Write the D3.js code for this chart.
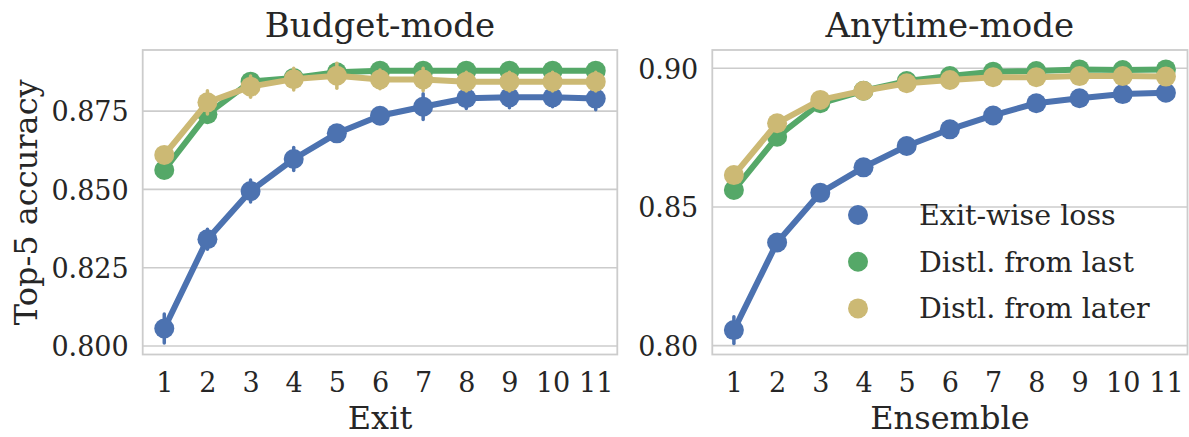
<!DOCTYPE html>
<html>
<head>
<meta charset="utf-8">
<script src="https://cdn.jsdelivr.net/npm/d3@7"></script>
<style>
    html, body { margin: 0; padding: 0; background: #ffffff; }
</style>
</head>
<body>
<div id="chart"></div>
<script>

const exits = [1, 2, 3, 4, 5, 6, 7, 8, 9, 10, 11]
const seriesNames = ["Exit-wise loss", "Distl. from last", "Distl. from later"]
const seriesColors = ["#4c72b0", "#55a868", "#ccb974"]

// Budget-mode, top-5 accuracy per exit
const budgetExitwise = [0.8056, 0.8341, 0.8495, 0.8597, 0.8679, 0.8735, 0.8764, 0.8791, 0.8794, 0.8794, 0.8790]
const budgetLast     = [0.8562, 0.8740, 0.8844, 0.8856, 0.8874, 0.8879, 0.8879, 0.8879, 0.8879, 0.8879, 0.8879]
const budgetLater    = [0.8610, 0.8778, 0.8828, 0.8852, 0.8863, 0.8851, 0.8851, 0.8844, 0.8844, 0.8844, 0.8844]
// half-width of the error bars
const budgetExitwiseErr = [0.0046, 0.0032, 0.0035, 0.0037, 0.0020, 0.0020, 0.0041, 0.0033, 0.0033, 0.0030, 0.0036]
const budgetLastErr     = [0.0020, 0.0025, 0.0025, 0.0020, 0.0025, 0.0020, 0.0020, 0.0020, 0.0020, 0.0020, 0.0020]
const budgetLaterErr    = [0.0020, 0.0037, 0.0034, 0.0035, 0.0040, 0.0030, 0.0036, 0.0030, 0.0030, 0.0030, 0.0030]

// Anytime-mode, top-5 accuracy per ensemble size
const anytimeExitwise = [0.8056, 0.8372, 0.8551, 0.8643, 0.8720, 0.8780, 0.8830, 0.8874, 0.8892, 0.8907, 0.8912]
const anytimeLast     = [0.8561, 0.8753, 0.8874, 0.8919, 0.8954, 0.8972, 0.8988, 0.8990, 0.8996, 0.8994, 0.8996]
const anytimeLater    = [0.8615, 0.8802, 0.8886, 0.8919, 0.8946, 0.8958, 0.8968, 0.8968, 0.8972, 0.8972, 0.8970]
const anytimeExitwiseErr = [0.0048, 0.0020, 0.0020, 0.0015, 0.0015, 0.0015, 0.0015, 0.0015, 0.0015, 0.0015, 0.0015]
const anytimeLastErr     = [0.0020, 0.0020, 0.0015, 0.0015, 0.0015, 0.0015, 0.0015, 0.0015, 0.0015, 0.0015, 0.0015]
const anytimeLaterErr    = [0.0020, 0.0020, 0.0015, 0.0015, 0.0015, 0.0015, 0.0015, 0.0015, 0.0015, 0.0015, 0.0015]

const budgetTicks = [0.800, 0.825, 0.850, 0.875]
const anytimeTicks = [0.80, 0.85, 0.90]

const fontFamily = "'DejaVu Serif', serif"

function drawChart() {
    const width = 1189
    const height = 437

    const svg = d3.select("#chart").append("svg")
        .attr("width", width)
        .attr("height", height)

    svg.append("rect")
        .attr("width", width)
        .attr("height", height)
        .attr("fill", "#ffffff")

    const panels = [
        {
            title: "Budget-mode",
            xLabel: "Exit",
            left: 142.7, right: 617.3,
            yDomain: [0.7973, 0.8945],
            ticks: budgetTicks,
            tickFormat: d3.format(".3f"),
            series: [budgetExitwise, budgetLast, budgetLater],
            errors: [budgetExitwiseErr, budgetLastErr, budgetLaterErr],
            legend: false
        },
        {
            title: "Anytime-mode",
            xLabel: "Ensemble",
            left: 712.3, right: 1187.5,
            yDomain: [0.7968, 0.9066],
            ticks: anytimeTicks,
            tickFormat: d3.format(".2f"),
            series: [anytimeExitwise, anytimeLast, anytimeLater],
            errors: [anytimeExitwiseErr, anytimeLastErr, anytimeLaterErr],
            legend: true
        }
    ]

    const top = 50
    const bottom = 354.5
    const gridColor = "#cccccc"

    panels.forEach(function (p) {
        const x = d3.scalePoint()
            .domain(exits)
            .range([p.left, p.right])
            .padding(0.5)

        const y = d3.scaleLinear()
            .domain(p.yDomain)
            .range([bottom, top])

        const g = svg.append("g")

        // grid lines
        g.selectAll(".grid")
            .data(p.ticks)
            .join("line")
                .attr("class", "grid")
                .attr("x1", p.left)
                .attr("x2", p.right)
                .attr("y1", d => y(d))
                .attr("y2", d => y(d))
                .attr("stroke", gridColor)
                .attr("stroke-width", 1.6)

        // frame
        g.append("rect")
            .attr("x", p.left)
            .attr("y", top)
            .attr("width", p.right - p.left)
            .attr("height", bottom - top)
            .attr("fill", "none")
            .attr("stroke", gridColor)
            .attr("stroke-width", 1.8)

        // y axis
        const yAxis = g.append("g")
            .attr("transform", `translate(${p.left},0)`)
            .call(d3.axisLeft(y).tickValues(p.ticks).tickFormat(p.tickFormat).tickSize(0).tickPadding(14))
        yAxis.select(".domain").remove()
        yAxis.selectAll("text")
            .style("font-size", "27px")
            .attr("dy", "0.36em")

        // x axis
        const xAxis = g.append("g")
            .attr("transform", `translate(0,${bottom})`)
            .call(d3.axisBottom(x).tickSize(0).tickPadding(18))
        xAxis.select(".domain").remove()
        xAxis.selectAll("text")
            .style("font-size", "27px")

        // title and axis label
        g.append("text")
            .attr("x", (p.left + p.right) / 2)
            .attr("y", 37)
            .attr("text-anchor", "middle")
            .style("font-size", "34px")
            .text(p.title)

        g.append("text")
            .attr("x", (p.left + p.right) / 2)
            .attr("y", 429)
            .attr("text-anchor", "middle")
            .style("font-size", "32px")
            .text(p.xLabel)

        // series
        p.series.forEach(function (values, i) {
            const color = seriesColors[i]
            const pts = exits.map((e, j) => ({ x: e, y: values[j], err: p.errors[i][j] }))

            const line = d3.line()
                .x(d => x(d.x))
                .y(d => y(d.y))

            g.append("path")
                .datum(pts)
                .attr("d", line)
                .attr("fill", "none")
                .attr("stroke", color)
                .attr("stroke-width", 6)
                .attr("stroke-linejoin", "round")

            g.selectAll(".err-" + i)
                .data(pts)
                .join("line")
                    .attr("class", "err-" + i)
                    .attr("x1", d => x(d.x))
                    .attr("x2", d => x(d.x))
                    .attr("y1", d => y(d.y - d.err))
                    .attr("y2", d => y(d.y + d.err))
                    .attr("stroke", color)
                    .attr("stroke-width", 3.5)
                    .attr("stroke-linecap", "round")

            g.selectAll(".pt-" + i)
                .data(pts)
                .join("circle")
                    .attr("class", "pt-" + i)
                    .attr("cx", d => x(d.x))
                    .attr("cy", d => y(d.y))
                    .attr("r", 10)
                    .attr("fill", color)
        })

        if (p.legend) {
            const legend = g.append("g")
            seriesNames.forEach(function (name, i) {
                const ly = 215 + i * 46.7
                legend.append("circle")
                    .attr("cx", 858)
                    .attr("cy", ly)
                    .attr("r", 10)
                    .attr("fill", seriesColors[i])
                legend.append("text")
                    .attr("x", 919)
                    .attr("y", ly + 10)
                    .style("font-size", "28.5px")
                    .text(name)
            })
        }
    })

    // shared y label
    svg.append("text")
        .attr("transform", `translate(37,${(top + bottom) / 2}) rotate(-90)`)
        .attr("text-anchor", "middle")
        .style("font-size", "32px")
        .text("Top-5 accuracy")

    svg.selectAll("g").attr("font-family", null)
    svg.selectAll("text")
        .style("font-family", fontFamily)
        .attr("fill", "#262626")
}

drawChart()
</script>
</body>
</html>
